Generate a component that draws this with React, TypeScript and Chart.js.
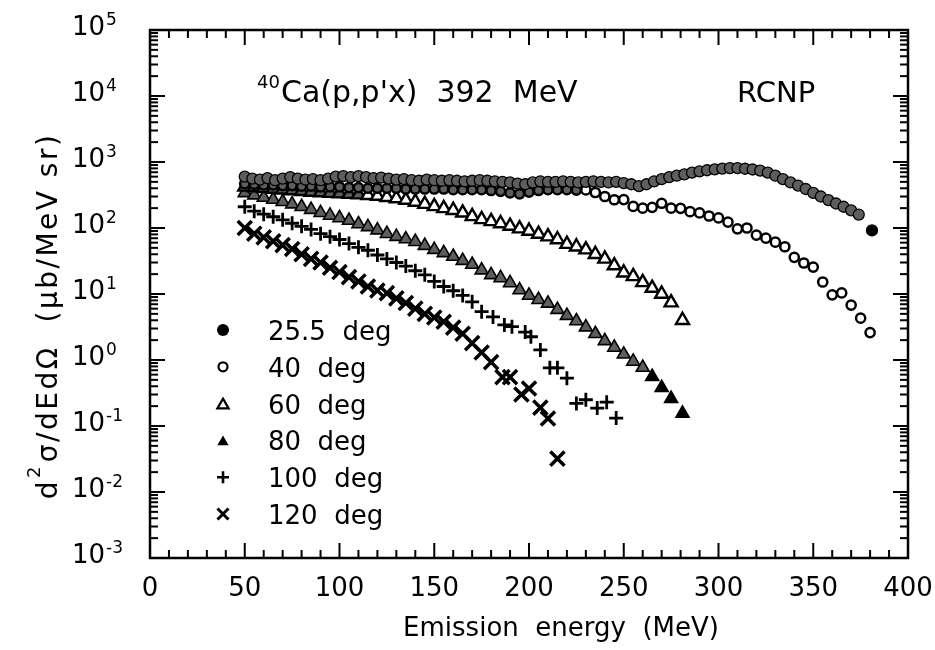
import React, { useEffect, useRef } from "react";
import { Chart, registerables } from "chart.js";

Chart.register(...registerables);

const FONT = '"DejaVu Sans", sans-serif';

// ---------- data (emission energy in MeV, cross section in ub/MeV sr) ----------
const E25 = [50, 54, 58, 62, 66, 70, 74, 78, 82, 86, 90, 94, 98, 102, 106, 110, 114, 118, 122, 126, 130, 134, 138, 142, 146, 150, 154, 158, 162, 166, 170, 174, 178, 182, 186, 190, 194, 198, 202, 206, 210, 214, 218, 222, 226, 230, 234, 238, 242, 246, 250, 254, 258, 262, 266, 270, 274, 278, 282, 286, 290, 294, 298, 302, 306, 310, 314, 318, 322, 326, 330, 334, 338, 342, 346, 350, 354, 358, 362, 366, 370, 374, 381];
const V25 = [600, 560, 540, 570, 530, 560, 590, 560, 540, 550, 530, 560, 600, 610, 590, 610, 590, 570, 580, 560, 540, 550, 530, 520, 540, 530, 520, 530, 520, 510, 520, 530, 520, 510, 500, 490, 470, 460, 490, 510, 500, 500, 510, 500, 490, 500, 510, 500, 490, 500, 480, 460, 430, 460, 510, 550, 590, 620, 650, 690, 720, 750, 775, 795, 810, 810, 790, 770, 740, 690, 620, 550, 490, 440, 390, 340, 300, 265, 235, 210, 185, 160, 92];

const E40 = [50, 55, 60, 65, 70, 75, 80, 85, 90, 95, 100, 105, 110, 115, 120, 125, 130, 135, 140, 145, 150, 155, 160, 165, 170, 175, 180, 185, 190, 195, 200, 205, 210, 215, 220, 225, 230, 235, 240, 245, 250, 255, 260, 265, 270, 275, 280, 285, 290, 295, 300, 305, 310, 315, 320, 325, 330, 335, 340, 345, 350, 355, 360, 365, 370, 375, 380];
const V40 = [470, 460, 450, 450, 440, 440, 430, 430, 420, 420, 420, 410, 410, 400, 400, 400, 400, 390, 390, 390, 390, 390, 380, 380, 380, 380, 370, 360, 340, 330, 350, 370, 380, 380, 380, 375, 377, 345, 300, 268, 270, 212, 200, 206, 237, 200, 199, 177, 169, 152, 142, 123, 97, 100, 78, 70, 61, 52, 36, 29.5, 25.6, 15.2, 9.7, 10.4, 6.8, 4.3, 2.6];

const E60 = [50, 55, 60, 65, 70, 75, 80, 85, 90, 95, 100, 105, 110, 115, 120, 125, 130, 135, 140, 145, 150, 155, 160, 165, 170, 175, 180, 185, 190, 195, 200, 205, 210, 215, 220, 225, 230, 235, 240, 245, 250, 255, 260, 265, 270, 275, 281];
const V60 = [420, 410, 400, 390, 380, 370, 360, 352, 345, 338, 332, 326, 320, 314, 305, 293, 280, 265, 248, 230, 213, 198, 186, 170, 150, 135, 126, 117, 107, 98, 90, 81, 74, 67, 57, 52, 47, 40, 34, 27, 21, 18.5, 15, 12.3, 10, 7.4, 4.0];

const E80 = [50, 55, 60, 65, 70, 75, 80, 85, 90, 95, 100, 105, 110, 115, 120, 125, 130, 135, 140, 145, 150, 155, 160, 165, 170, 175, 180, 185, 190, 195, 200, 205, 210, 215, 220, 225, 230, 235, 240, 245, 250, 255, 260, 265, 270, 275, 281];
const V80 = [340, 315, 290, 270, 250, 230, 210, 190, 170, 155, 142, 130, 115, 104, 93, 82, 74, 68, 62, 54, 47, 42, 37, 32, 28, 23, 19.5, 17.5, 14.7, 11.5, 9.5, 8.2, 7.2, 5.8, 4.7, 3.9, 3.15, 2.5, 1.95, 1.55, 1.22, 0.95, 0.77, 0.56, 0.38, 0.26, 0.155];

const E100 = [50, 55, 60, 65, 70, 75, 80, 85, 90, 95, 100, 105, 110, 115, 120, 125, 130, 135, 140, 145, 150, 155, 160, 165, 170, 175, 181, 187, 191, 198, 201, 206, 211, 215, 220, 225, 230, 236, 241, 246];
const V100 = [210, 180, 162, 148, 133, 118, 106, 95, 82, 74, 67, 58, 51, 46, 39, 34, 30, 26.5, 22.5, 19.5, 15.5, 13, 11.2, 9.5, 7.6, 5.4, 4.5, 3.4, 3.2, 2.65, 2.25, 1.42, 0.76, 0.76, 0.53, 0.22, 0.25, 0.187, 0.23, 0.132];

const E120 = [50, 55, 60, 65, 70, 75, 80, 85, 90, 95, 100, 105, 110, 115, 120, 125, 130, 135, 140, 145, 150, 155, 160, 165, 170, 175, 180, 186, 190, 196, 200, 206, 210, 215];
const V120 = [100, 82, 72, 63, 55, 48, 40, 34, 30, 25, 21.5, 18, 15.5, 13, 11.3, 10.3, 8.6, 7.3, 6.0, 5.0, 4.4, 3.8, 3.1, 2.5, 1.8, 1.3, 0.93, 0.55, 0.55, 0.30, 0.37, 0.19, 0.13, 0.032];

// ---------- labels ----------
const SERIES_LABELS = ["25.5  deg", "40  deg", "60  deg", "80  deg", "100  deg", "120  deg"];
const X_TICK_VALUES = [0, 50, 100, 150, 200, 250, 300, 350, 400];
const Y_TICK_EXPONENTS = [-3, -2, -1, 0, 1, 2, 3, 4, 5];
const TITLE_SUP = "40";
const TITLE_MAIN = "Ca(p,p'x)  392  MeV";
const LAB_LABEL = "RCNP";
const X_TITLE = "Emission  energy  (MeV)";
const Y_TITLE_A = "d";
const Y_TITLE_SUP = "2";
const Y_TITLE_B = "σ/dEdΩ  (μb/MeV sr)";

const toPoints = (xs: number[], ys: number[]) => xs.map((x, i) => ({ x, y: ys[i] }));

type MarkerKind = "fcircle" | "ocircle" | "otri" | "ftri" | "plus" | "cross";
const MARKERS: MarkerKind[] = ["fcircle", "ocircle", "otri", "ftri", "plus", "cross"];

function drawMarker(ctx: CanvasRenderingContext2D, kind: MarkerKind, x: number, y: number) {
  ctx.save();
  ctx.strokeStyle = "#000";
  ctx.fillStyle = "#000";
  ctx.beginPath();
  if (kind === "fcircle") {
    ctx.arc(x, y, 6, 0, Math.PI * 2);
    ctx.fill();
  } else if (kind === "ocircle") {
    ctx.lineWidth = 2.2;
    ctx.arc(x, y, 4.5, 0, Math.PI * 2);
    ctx.stroke();
  } else if (kind === "otri" || kind === "ftri") {
    const r = 6.5;
    for (let k = 0; k < 3; k++) {
      const a = (k * 2 * Math.PI) / 3;
      const px = x + Math.sin(a) * r;
      const py = y - Math.cos(a) * r + 1.5;
      if (k === 0) ctx.moveTo(px, py);
      else ctx.lineTo(px, py);
    }
    ctx.closePath();
    if (kind === "ftri") ctx.fill();
    else {
      ctx.lineWidth = 2.2;
      ctx.stroke();
    }
  } else if (kind === "plus") {
    ctx.lineWidth = 2.6;
    ctx.moveTo(x - 6, y);
    ctx.lineTo(x + 6, y);
    ctx.moveTo(x, y - 6);
    ctx.lineTo(x, y + 6);
    ctx.stroke();
  } else {
    ctx.lineWidth = 3;
    ctx.moveTo(x - 5.5, y - 5.5);
    ctx.lineTo(x + 5.5, y + 5.5);
    ctx.moveTo(x + 5.5, y - 5.5);
    ctx.lineTo(x - 5.5, y + 5.5);
    ctx.stroke();
  }
  ctx.restore();
}

const decorPlugin = {
  id: "decor",
  afterDraw(chart: any) {
    const ctx: CanvasRenderingContext2D = chart.ctx;
    const { left, right, top, bottom } = chart.chartArea;
    const xs = chart.scales.x;
    const ys = chart.scales.y;
    ctx.save();
    ctx.strokeStyle = "#000";
    ctx.fillStyle = "#000";
    ctx.lineCap = "butt";

    const seg = (x1: number, y1: number, x2: number, y2: number) => {
      ctx.beginPath();
      ctx.moveTo(x1, y1);
      ctx.lineTo(x2, y2);
      ctx.stroke();
    };

    // x ticks (inward, bottom and top)
    ctx.lineWidth = 2;
    for (let v = xs.min; v <= xs.max; v += 10) {
      const px = xs.getPixelForValue(v);
      const len = v % 50 === 0 ? 15 : 8;
      seg(px, bottom, px, bottom - len);
      seg(px, top, px, top + len);
    }
    // y ticks (log, inward, left and right)
    for (const e of Y_TICK_EXPONENTS) {
      for (let m = 1; m <= 9; m++) {
        if (e === Y_TICK_EXPONENTS[Y_TICK_EXPONENTS.length - 1] && m > 1) break;
        const py = ys.getPixelForValue(m * Math.pow(10, e));
        const len = m === 1 ? 15 : 8;
        seg(left, py, left + len, py);
        seg(right, py, right - len, py);
      }
    }
    // frame
    ctx.lineWidth = 2.5;
    ctx.strokeRect(left, top, right - left, bottom - top);

    // x tick labels
    ctx.font = `26px ${FONT}`;
    ctx.textAlign = "center";
    ctx.textBaseline = "alphabetic";
    for (const v of X_TICK_VALUES) {
      ctx.fillText(String(v), xs.getPixelForValue(v), bottom + 38);
    }
    // y tick labels 10^n
    for (const e of Y_TICK_EXPONENTS) {
      const py = ys.getPixelForValue(Math.pow(10, e));
      ctx.font = `26px ${FONT}`;
      ctx.textAlign = "right";
      ctx.fillText("10", 105, py + 5);
      ctx.font = `17px ${FONT}`;
      ctx.textAlign = "left";
      ctx.fillText(e < 0 ? "-" + String(-e) : String(e), 106, py - 5);
    }

    // x axis title
    ctx.font = `26px ${FONT}`;
    ctx.textAlign = "center";
    ctx.fillText(X_TITLE, 561, bottom + 78);

    // y axis title (rotated)
    ctx.save();
    ctx.translate(47, 316);
    ctx.rotate(-Math.PI / 2);
    (ctx as any).letterSpacing = "2.5px";
    ctx.font = `28px ${FONT}`;
    const wa = ctx.measureText(Y_TITLE_A).width;
    const wb = ctx.measureText(Y_TITLE_B).width;
    ctx.font = `18px ${FONT}`;
    const ws = ctx.measureText(Y_TITLE_SUP).width + 3;
    const total = wa + ws + wb;
    let cx = -total / 2;
    ctx.textAlign = "left";
    ctx.font = `28px ${FONT}`;
    ctx.fillText(Y_TITLE_A, cx, 10);
    cx += wa;
    ctx.font = `18px ${FONT}`;
    ctx.fillText(Y_TITLE_SUP, cx + 1, -7);
    cx += ws;
    ctx.font = `28px ${FONT}`;
    ctx.fillText(Y_TITLE_B, cx, 10);
    ctx.restore();

    // annotation title
    ctx.textAlign = "left";
    ctx.font = `18px ${FONT}`;
    ctx.fillText(TITLE_SUP, 257, 88);
    ctx.font = `30px ${FONT}`;
    ctx.fillText(TITLE_MAIN, 281, 102);
    ctx.font = `29px ${FONT}`;
    ctx.fillText(LAB_LABEL, 737, 102);

    // legend
    ctx.font = `26px ${FONT}`;
    SERIES_LABELS.forEach((lab, i) => {
      const base = 340 + i * 36.8;
      drawMarker(ctx, MARKERS[i], 223, base - 10);
      ctx.fillStyle = "#000";
      ctx.fillText(lab, 268, base);
    });
    ctx.restore();
  },
};

export default function App() {
  const canvasRef = useRef<HTMLCanvasElement | null>(null);

  useEffect(() => {
    const canvas = canvasRef.current;
    if (!canvas) return;
    const gray = "#5e5e5e";
    const chart = new Chart(canvas, {
      type: "scatter",
      data: {
        datasets: [
          {
            label: SERIES_LABELS[0],
            data: toPoints(E25, V25),
            pointStyle: "circle",
            pointRadius: 5.5,
            pointBorderWidth: 1.3,
            pointBorderColor: "#000",
            pointBackgroundColor: (c: any) => (c.dataIndex === V25.length - 1 ? "#000" : gray),
          },
          {
            label: SERIES_LABELS[1],
            data: toPoints(E40, V40),
            pointStyle: "circle",
            pointRadius: 4.6,
            pointBorderWidth: 2.5,
            pointBorderColor: "#000",
            pointBackgroundColor: (c: any) => (E40[c.dataIndex] <= 225 ? gray : "#fff"),
          },
          {
            label: SERIES_LABELS[2],
            data: toPoints(E60, V60),
            pointStyle: "triangle",
            pointRadius: 7.5,
            pointBorderWidth: 2.4,
            pointBorderColor: "#000",
            pointBackgroundColor: (c: any) => (E60[c.dataIndex] <= 110 ? gray : "#fff"),
          },
          {
            label: SERIES_LABELS[3],
            data: toPoints(E80, V80),
            pointStyle: "triangle",
            pointRadius: 7.5,
            pointBorderWidth: 1.6,
            pointBorderColor: "#000",
            pointBackgroundColor: (c: any) => (c.dataIndex >= V80.length - 4 ? "#000" : gray),
          },
          {
            label: SERIES_LABELS[4],
            data: toPoints(E100, V100),
            pointStyle: "cross",
            pointRadius: 7,
            pointBorderWidth: 2.8,
            pointBorderColor: "#000",
          },
          {
            label: SERIES_LABELS[5],
            data: toPoints(E120, V120),
            pointStyle: "crossRot",
            pointRadius: 10,
            pointBorderWidth: 3.5,
            pointBorderColor: "#000",
          },
        ],
      },
      options: {
        animation: false,
        responsive: false,
        devicePixelRatio: 1,
        layout: { padding: { left: 150, top: 30, right: 27, bottom: 92 } },
        scales: {
          x: { type: "linear", min: 0, max: 400, display: false },
          y: { type: "logarithmic", min: 1e-3, max: 1e5, display: false },
        },
        plugins: {
          legend: { display: false },
          tooltip: { enabled: false },
        },
        events: [],
      },
      plugins: [decorPlugin],
    });
    return () => chart.destroy();
  }, []);

  return (
    <div style={{ position: "fixed", left: 0, top: 0, width: 935, height: 650, background: "#fff" }}>
      <canvas ref={canvasRef} width={935} height={650} style={{ display: "block" }} />
    </div>
  );
}
